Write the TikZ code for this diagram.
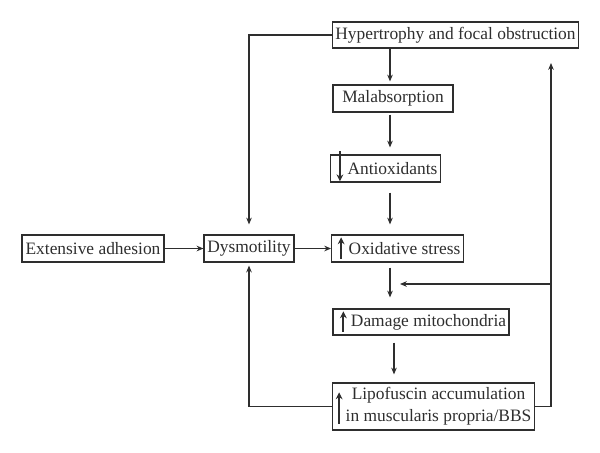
\documentclass[tikz,border=0pt]{standalone}
\usepackage{fontspec}
\setmainfont{Liberation Serif}
\usepackage{tikz}
\usetikzlibrary{arrows.meta}
\definecolor{ink}{HTML}{2E2E2E}
\tikzset{
  box/.style={draw=ink, line width=0.6pt, minimum height=13.5pt, inner sep=1.5pt, text=ink, font=\fontsize{8.7}{10.8}\selectfont},
  line/.style={draw=ink, line width=0.55pt},
  arr/.style={line, -{Stealth[length=3.4pt,width=2.8pt]}},
  upmark/.style={draw=ink, line width=1.1pt, -{Stealth[length=3.4pt,width=3.4pt]}}
}

\begin{document}
\begin{tikzpicture}[x=0.5pt,y=-0.5pt]
  \useasboundingbox (0,0) rectangle (600,452);
  % rails for the vertical connectors
  \coordinate (col) at (390,0);
  \coordinate (col2) at (394,0);
  \coordinate (lrail) at (249,0);
  \coordinate (rrail) at (551,0);
  \coordinate (top) at (551,63);
  \coordinate (tee) at (551,284);
  \coordinate (teeend) at (400,284);

  \node[box, minimum width=122.5pt, minimum height=13pt] (hyp) at (455.5,35) {Hypertrophy and focal obstruction};
  \node[box, minimum width=60pt] (mal) at (393,98.5) {Malabsorption};
  \node[box, minimum width=52.5pt] (anti) at (385.5,168.5) {\kern7pt Antioxidants};
  \node[box, minimum width=71pt] (ext) at (93,248.5) {Extensive adhesion};
  \node[box, minimum width=45pt] (dys) at (249,248.5) {Dysmotility};
  \node[box, minimum width=63.5pt] (oxi) at (397.5,248.5) {\kern7pt Oxidative stress};
  \node[box, minimum width=87pt, minimum height=13pt] (dam) at (421,322) {\kern7.5pt Damage mitochondria};
  \node[box, minimum width=97.5pt, minimum height=23.5pt, align=center] (lip) at (433.5,406.5)
    {\hspace*{5pt}Lipofuscin accumulation\\\hspace*{5pt}in muscularis propria/BBS};

  % up / down marks inside the boxes
  \draw[upmark] ([xshift=5pt,yshift=1.5pt]anti.north west) -- ([xshift=5pt,yshift=0.7pt]anti.south west);
  \draw[upmark] ([xshift=5pt,yshift=2pt]oxi.south west) -- ([xshift=5pt,yshift=-1.5pt]oxi.north west);
  \draw[upmark] ([xshift=5.5pt,yshift=2pt]dam.south west) -- ([xshift=5.5pt,yshift=-1.5pt]dam.north west);
  \draw[upmark] ([xshift=3.5pt,yshift=3.5pt]lip.south west) -- ([xshift=3.5pt,yshift=-5pt]lip.north west);

  % main chain
  \draw[arr, shorten >=1.5pt] (col |- hyp.south) -- (col |- mal.north);
  \draw[arr, shorten <=1pt, shorten >=3.5pt] (col |- mal.south) -- (col |- anti.north);
  \draw[arr, shorten <=5pt, shorten >=5pt] (col |- anti.south) -- (col |- oxi.north);
  \draw[arr, shorten <=2.5pt, shorten >=5.5pt] (col |- oxi.south) -- (col |- dam.north);
  \draw[arr, shorten <=3.5pt, shorten >=4pt] (col2 |- dam.south) -- (col2 |- lip.north);
  \draw[arr] (ext) -- (dys);
  \draw[arr] (dys) -- (oxi);

  % feedback loops
  \draw[arr, shorten >=5pt] (hyp.west) -- (lrail |- hyp.west) -- (lrail |- dys.north);
  \draw[arr, shorten >=1.5pt] (lip.west) -- (lrail |- lip.west) -- (lrail |- dys.south);
  \draw[arr] (lip.east) -- (rrail |- lip.east) -- (top);
  \draw[arr] (tee) -- (teeend);
\end{tikzpicture}
\end{document}
